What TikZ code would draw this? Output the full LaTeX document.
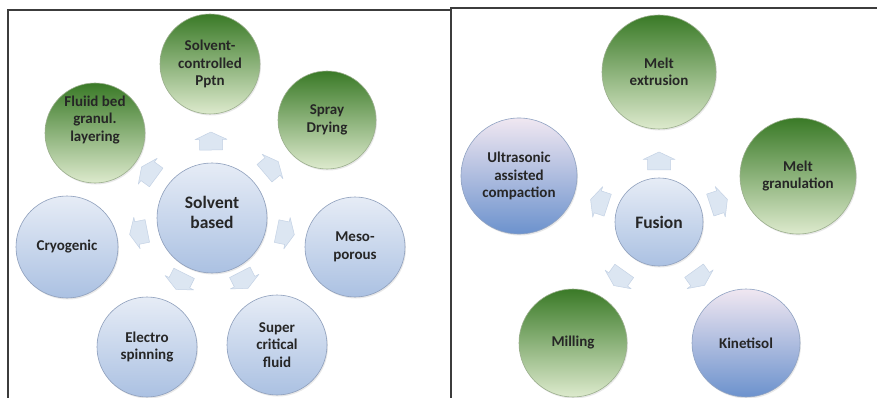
\documentclass[tikz,border=0pt]{standalone}
\usepackage{fontspec}
\setmainfont{Carlito}
\usetikzlibrary{calc,shadows}

\definecolor{textc}{HTML}{262626}
\definecolor{framec}{HTML}{3C3C3C}
% green bubbles
\definecolor{gtop}{HTML}{3A7A27}
\definecolor{gbot}{HTML}{DDEACD}
\definecolor{gline}{HTML}{9AAE8C}
% pale blue bubbles
\definecolor{ptop}{HTML}{E6ECF6}
\definecolor{pbot}{HTML}{ABC1E2}
\definecolor{pline}{HTML}{8E9FBC}
% deeper blue bubbles
\definecolor{dtop}{HTML}{F0E7F1}
\definecolor{dbot}{HTML}{6C92CD}
\definecolor{dline}{HTML}{8FA2C2}
% radial arrows
\definecolor{afill}{HTML}{DCE6F2}
\definecolor{aline}{HTML}{C4D2E5}

\tikzset{
  bubble/.style={circle, inner sep=0pt, align=center, line width=0.6pt,
    font=\bfseries\fontsize{15}{17.5}\selectfont, text=textc,
    drop shadow={opacity=0.18, shadow xshift=1pt, shadow yshift=-1.5pt}},
  greenb/.style={bubble, top color=gtop, bottom color=gbot, draw=gline},
  paleb/.style={bubble, top color=ptop, bottom color=pbot, draw=pline},
  deepb/.style={bubble, top color=dtop, bottom color=dbot, draw=dline},
  hub/.style={paleb, font=\bfseries\fontsize{17.5}{20}\selectfont},
  label text/.style={align=center, inner sep=0pt, text=textc,
    font=\bfseries\fontsize{15}{17.5}\selectfont},
  blockarrow/.style={fill=afill, draw=aline, line width=0.5pt, line join=round},
  frame/.style={draw=framec, line width=2pt}
}

% block arrow from hub #1 towards bubble #2, centred #3 away from the hub
\newcommand\radialarrow[3]{%
  \path ($(#1)!#3!(#2)$) coordinate (arrowpos);
  \path let \p1=($(#2)-(#1)$) in
    \pgfextra{\pgfmathsetmacro\arrowang{atan2(\y1,\x1)}\xdef\arrowang{\arrowang}};
  \draw[blockarrow, shift={(arrowpos)}, rotate=\arrowang]
    (-9,-11.5) -- (1.5,-11.5) -- (1.5,-16) -- (9,0) -- (1.5,16)
    -- (1.5,11.5) -- (-9,11.5) -- cycle;}

\begin{document}
\begin{tikzpicture}[x=1pt,y=-1pt]
\useasboundingbox (0,0) rectangle (877,398);
\fill[white] (0,0) rectangle (877,398);

% panel frames
\draw[frame] (7.5,398) -- (7.5,10) -- (451,10);
\draw[frame] (451,398) -- (451,8) -- (877,8);

% ---- solvent based methods ----
\node[hub, minimum size=110pt] (solvent) at (212,218) {};
\node[label text, font=\bfseries\fontsize{17.5}{20}\selectfont] at ([yshift=6pt]solvent.center) {Solvent\\based};

\node[greenb, minimum size=100pt] (pptn) at (210,64) {Solvent-\\controlled\\Pptn};
\node[greenb, minimum size=100pt] (fluid) at (95,133) {};
\node[label text] at ([yshift=13pt]fluid.center) {Fluiid bed\\granul.\\layering};
\node[greenb, minimum size=98pt] (spray) at (327,120) {Spray\\Drying};
\node[paleb, minimum size=102pt] (cryo) at (67,247) {Cryogenic};
\node[paleb, minimum size=100pt] (meso) at (355,247) {Meso-\\porous};
\node[paleb, minimum size=100pt] (electro) at (147,347) {Electro\\spinning};
\node[paleb, minimum size=100pt] (super) at (277,345) {Super\\critical\\fluid};

\radialarrow{solvent}{pptn}{77pt}
\radialarrow{solvent}{fluid}{78pt}
\radialarrow{solvent}{spray}{78pt}
\radialarrow{solvent}{cryo}{75pt}
\radialarrow{solvent}{meso}{75pt}
\radialarrow{solvent}{electro}{71pt}
\radialarrow{solvent}{super}{70pt}

% ---- fusion methods ----
\node[hub, minimum size=88pt] (fusion) at (659,222) {Fusion};
\node[greenb, minimum size=114pt] (mext) at (659,72) {Melt\\extrusion};
\node[greenb, minimum size=116pt] (mgran) at (798,176) {Melt\\granulation};
\node[deepb, minimum size=116pt] (ultra) at (519,176) {Ultrasonic\\assisted\\compaction};
\node[greenb, minimum size=108pt] (milling) at (573,343) {Milling};
\node[deepb, minimum size=108pt] (kinet) at (746,343) {Kinetisol};

\radialarrow{fusion}{mext}{61pt}
\radialarrow{fusion}{mgran}{63pt}
\radialarrow{fusion}{ultra}{63pt}
\radialarrow{fusion}{milling}{69pt}
\radialarrow{fusion}{kinet}{69pt}
\end{tikzpicture}
\end{document}
